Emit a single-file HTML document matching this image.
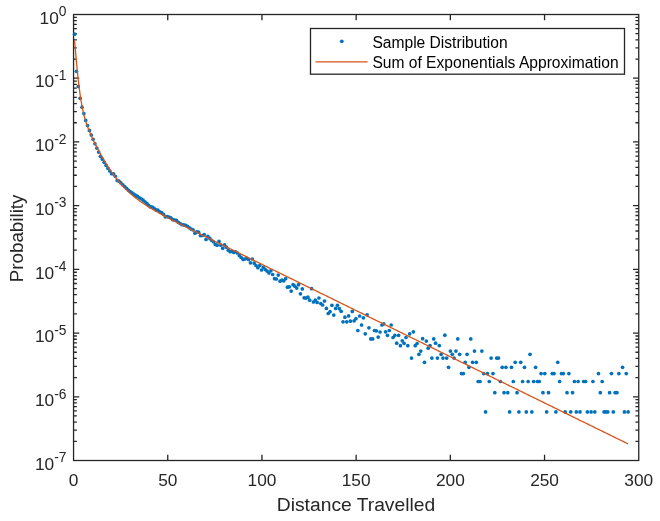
<!DOCTYPE html>
<html><head><meta charset="utf-8"><title>Distance Travelled</title>
<style>html,body{margin:0;padding:0;background:#fff}svg{display:block}</style>
</head><body>
<svg width="660" height="521" viewBox="0 0 660 521">
<rect width="660" height="521" fill="#fff"/>
<g stroke="#262626" stroke-width="1.3" fill="none" shape-rendering="auto">
<rect x="73.55" y="14.5" width="565.2" height="446.0"/>
<path d="M167.75,460.5v-5.7M167.75,14.5v5.7"/>
<path d="M261.95,460.5v-5.7M261.95,14.5v5.7"/>
<path d="M356.15,460.5v-5.7M356.15,14.5v5.7"/>
<path d="M450.35,460.5v-5.7M450.35,14.5v5.7"/>
<path d="M544.55,460.5v-5.7M544.55,14.5v5.7"/>
<path d="M73.55,59.03h3.3M638.75,59.03h-3.3"/>
<path d="M73.55,47.81h3.3M638.75,47.81h-3.3"/>
<path d="M73.55,39.85h3.3M638.75,39.85h-3.3"/>
<path d="M73.55,33.68h3.3M638.75,33.68h-3.3"/>
<path d="M73.55,28.63h3.3M638.75,28.63h-3.3"/>
<path d="M73.55,24.37h3.3M638.75,24.37h-3.3"/>
<path d="M73.55,20.67h3.3M638.75,20.67h-3.3"/>
<path d="M73.55,17.42h3.3M638.75,17.42h-3.3"/>
<path d="M73.55,78.21h5.7M638.75,78.21h-5.7"/>
<path d="M73.55,122.75h3.3M638.75,122.75h-3.3"/>
<path d="M73.55,111.53h3.3M638.75,111.53h-3.3"/>
<path d="M73.55,103.57h3.3M638.75,103.57h-3.3"/>
<path d="M73.55,97.39h3.3M638.75,97.39h-3.3"/>
<path d="M73.55,92.35h3.3M638.75,92.35h-3.3"/>
<path d="M73.55,88.08h3.3M638.75,88.08h-3.3"/>
<path d="M73.55,84.39h3.3M638.75,84.39h-3.3"/>
<path d="M73.55,81.13h3.3M638.75,81.13h-3.3"/>
<path d="M73.55,141.93h5.7M638.75,141.93h-5.7"/>
<path d="M73.55,186.46h3.3M638.75,186.46h-3.3"/>
<path d="M73.55,175.24h3.3M638.75,175.24h-3.3"/>
<path d="M73.55,167.28h3.3M638.75,167.28h-3.3"/>
<path d="M73.55,161.11h3.3M638.75,161.11h-3.3"/>
<path d="M73.55,156.06h3.3M638.75,156.06h-3.3"/>
<path d="M73.55,151.80h3.3M638.75,151.80h-3.3"/>
<path d="M73.55,148.10h3.3M638.75,148.10h-3.3"/>
<path d="M73.55,144.84h3.3M638.75,144.84h-3.3"/>
<path d="M73.55,205.64h5.7M638.75,205.64h-5.7"/>
<path d="M73.55,250.18h3.3M638.75,250.18h-3.3"/>
<path d="M73.55,238.96h3.3M638.75,238.96h-3.3"/>
<path d="M73.55,231.00h3.3M638.75,231.00h-3.3"/>
<path d="M73.55,224.82h3.3M638.75,224.82h-3.3"/>
<path d="M73.55,219.78h3.3M638.75,219.78h-3.3"/>
<path d="M73.55,215.51h3.3M638.75,215.51h-3.3"/>
<path d="M73.55,211.82h3.3M638.75,211.82h-3.3"/>
<path d="M73.55,208.56h3.3M638.75,208.56h-3.3"/>
<path d="M73.55,269.36h5.7M638.75,269.36h-5.7"/>
<path d="M73.55,313.89h3.3M638.75,313.89h-3.3"/>
<path d="M73.55,302.67h3.3M638.75,302.67h-3.3"/>
<path d="M73.55,294.71h3.3M638.75,294.71h-3.3"/>
<path d="M73.55,288.54h3.3M638.75,288.54h-3.3"/>
<path d="M73.55,283.49h3.3M638.75,283.49h-3.3"/>
<path d="M73.55,279.23h3.3M638.75,279.23h-3.3"/>
<path d="M73.55,275.53h3.3M638.75,275.53h-3.3"/>
<path d="M73.55,272.27h3.3M638.75,272.27h-3.3"/>
<path d="M73.55,333.07h5.7M638.75,333.07h-5.7"/>
<path d="M73.55,377.61h3.3M638.75,377.61h-3.3"/>
<path d="M73.55,366.39h3.3M638.75,366.39h-3.3"/>
<path d="M73.55,358.43h3.3M638.75,358.43h-3.3"/>
<path d="M73.55,352.25h3.3M638.75,352.25h-3.3"/>
<path d="M73.55,347.21h3.3M638.75,347.21h-3.3"/>
<path d="M73.55,342.94h3.3M638.75,342.94h-3.3"/>
<path d="M73.55,339.25h3.3M638.75,339.25h-3.3"/>
<path d="M73.55,335.99h3.3M638.75,335.99h-3.3"/>
<path d="M73.55,396.79h5.7M638.75,396.79h-5.7"/>
<path d="M73.55,441.32h3.3M638.75,441.32h-3.3"/>
<path d="M73.55,430.10h3.3M638.75,430.10h-3.3"/>
<path d="M73.55,422.14h3.3M638.75,422.14h-3.3"/>
<path d="M73.55,415.97h3.3M638.75,415.97h-3.3"/>
<path d="M73.55,410.92h3.3M638.75,410.92h-3.3"/>
<path d="M73.55,406.66h3.3M638.75,406.66h-3.3"/>
<path d="M73.55,402.96h3.3M638.75,402.96h-3.3"/>
<path d="M73.55,399.70h3.3M638.75,399.70h-3.3"/>
</g>
<g fill="#0072BD">
<circle cx="74.60" cy="34.20" r="1.85"/>
<circle cx="76.45" cy="71.30" r="1.85"/>
<circle cx="78.30" cy="86.40" r="1.85"/>
<circle cx="80.15" cy="98.30" r="1.85"/>
<circle cx="82.00" cy="107.20" r="1.85"/>
<circle cx="83.86" cy="113.60" r="1.85"/>
<circle cx="85.71" cy="120.40" r="1.85"/>
<circle cx="87.56" cy="125.49" r="1.85"/>
<circle cx="89.41" cy="130.38" r="1.85"/>
<circle cx="91.26" cy="135.05" r="1.85"/>
<circle cx="93.11" cy="139.25" r="1.85"/>
<circle cx="94.96" cy="143.77" r="1.85"/>
<circle cx="96.81" cy="148.03" r="1.85"/>
<circle cx="98.67" cy="152.07" r="1.85"/>
<circle cx="100.52" cy="156.28" r="1.85"/>
<circle cx="102.37" cy="159.17" r="1.85"/>
<circle cx="104.22" cy="162.30" r="1.85"/>
<circle cx="106.07" cy="165.32" r="1.85"/>
<circle cx="107.92" cy="168.22" r="1.85"/>
<circle cx="109.77" cy="171.00" r="1.85"/>
<circle cx="111.62" cy="173.67" r="1.85"/>
<circle cx="113.48" cy="173.86" r="1.85"/>
<circle cx="115.33" cy="176.34" r="1.85"/>
<circle cx="117.18" cy="180.40" r="1.85"/>
<circle cx="119.03" cy="181.16" r="1.85"/>
<circle cx="120.88" cy="182.91" r="1.85"/>
<circle cx="122.73" cy="184.80" r="1.85"/>
<circle cx="124.58" cy="186.60" r="1.85"/>
<circle cx="126.43" cy="188.36" r="1.85"/>
<circle cx="128.28" cy="190.03" r="1.85"/>
<circle cx="130.14" cy="191.62" r="1.85"/>
<circle cx="131.99" cy="192.94" r="1.85"/>
<circle cx="133.84" cy="194.18" r="1.85"/>
<circle cx="135.69" cy="195.37" r="1.85"/>
<circle cx="137.54" cy="196.29" r="1.85"/>
<circle cx="139.39" cy="197.86" r="1.85"/>
<circle cx="141.24" cy="198.77" r="1.85"/>
<circle cx="143.09" cy="200.15" r="1.85"/>
<circle cx="144.95" cy="201.78" r="1.85"/>
<circle cx="146.80" cy="203.28" r="1.85"/>
<circle cx="148.65" cy="205.45" r="1.85"/>
<circle cx="150.50" cy="206.88" r="1.85"/>
<circle cx="152.35" cy="207.00" r="1.85"/>
<circle cx="154.20" cy="208.38" r="1.85"/>
<circle cx="156.05" cy="209.95" r="1.85"/>
<circle cx="157.90" cy="210.10" r="1.85"/>
<circle cx="159.76" cy="211.73" r="1.85"/>
<circle cx="161.61" cy="212.55" r="1.85"/>
<circle cx="163.46" cy="214.35" r="1.85"/>
<circle cx="165.31" cy="216.85" r="1.85"/>
<circle cx="167.16" cy="216.53" r="1.85"/>
<circle cx="169.01" cy="217.20" r="1.85"/>
<circle cx="170.86" cy="217.87" r="1.85"/>
<circle cx="172.71" cy="219.63" r="1.85"/>
<circle cx="174.56" cy="219.98" r="1.85"/>
<circle cx="176.42" cy="220.43" r="1.85"/>
<circle cx="178.27" cy="222.37" r="1.85"/>
<circle cx="180.12" cy="223.51" r="1.85"/>
<circle cx="181.97" cy="224.75" r="1.85"/>
<circle cx="183.82" cy="224.78" r="1.85"/>
<circle cx="185.67" cy="225.31" r="1.85"/>
<circle cx="187.52" cy="226.34" r="1.85"/>
<circle cx="189.37" cy="227.86" r="1.85"/>
<circle cx="191.23" cy="229.08" r="1.85"/>
<circle cx="193.08" cy="229.80" r="1.85"/>
<circle cx="194.93" cy="233.22" r="1.85"/>
<circle cx="196.78" cy="231.84" r="1.85"/>
<circle cx="198.63" cy="232.16" r="1.85"/>
<circle cx="200.48" cy="235.57" r="1.85"/>
<circle cx="202.33" cy="235.49" r="1.85"/>
<circle cx="204.18" cy="234.50" r="1.85"/>
<circle cx="206.04" cy="239.41" r="1.85"/>
<circle cx="207.89" cy="236.42" r="1.85"/>
<circle cx="209.74" cy="238.34" r="1.85"/>
<circle cx="211.59" cy="240.25" r="1.85"/>
<circle cx="213.44" cy="241.76" r="1.85"/>
<circle cx="215.29" cy="244.47" r="1.85"/>
<circle cx="217.14" cy="245.18" r="1.85"/>
<circle cx="218.99" cy="241.39" r="1.85"/>
<circle cx="220.84" cy="245.20" r="1.85"/>
<circle cx="222.70" cy="248.31" r="1.85"/>
<circle cx="224.55" cy="244.92" r="1.85"/>
<circle cx="226.40" cy="247.13" r="1.85"/>
<circle cx="228.25" cy="250.13" r="1.85"/>
<circle cx="230.10" cy="251.74" r="1.85"/>
<circle cx="231.95" cy="251.35" r="1.85"/>
<circle cx="233.80" cy="252.46" r="1.85"/>
<circle cx="235.65" cy="251.77" r="1.85"/>
<circle cx="237.51" cy="253.00" r="1.85"/>
<circle cx="239.36" cy="255.60" r="1.85"/>
<circle cx="241.21" cy="257.50" r="1.85"/>
<circle cx="243.06" cy="259.40" r="1.85"/>
<circle cx="244.91" cy="259.00" r="1.85"/>
<circle cx="246.76" cy="258.30" r="1.85"/>
<circle cx="248.61" cy="259.40" r="1.85"/>
<circle cx="250.46" cy="262.80" r="1.85"/>
<circle cx="252.32" cy="259.00" r="1.85"/>
<circle cx="254.17" cy="263.20" r="1.85"/>
<circle cx="256.02" cy="265.50" r="1.85"/>
<circle cx="257.87" cy="267.70" r="1.85"/>
<circle cx="259.72" cy="265.50" r="1.85"/>
<circle cx="261.57" cy="270.00" r="1.85"/>
<circle cx="263.42" cy="267.30" r="1.85"/>
<circle cx="265.27" cy="269.60" r="1.85"/>
<circle cx="267.12" cy="271.10" r="1.85"/>
<circle cx="268.98" cy="273.00" r="1.85"/>
<circle cx="270.83" cy="270.80" r="1.85"/>
<circle cx="272.68" cy="274.50" r="1.85"/>
<circle cx="274.53" cy="278.70" r="1.85"/>
<circle cx="276.38" cy="279.00" r="1.85"/>
<circle cx="278.23" cy="275.10" r="1.85"/>
<circle cx="280.08" cy="281.20" r="1.85"/>
<circle cx="281.93" cy="280.20" r="1.85"/>
<circle cx="283.79" cy="280.80" r="1.85"/>
<circle cx="285.64" cy="278.70" r="1.85"/>
<circle cx="287.49" cy="287.20" r="1.85"/>
<circle cx="289.34" cy="286.80" r="1.85"/>
<circle cx="291.19" cy="291.10" r="1.85"/>
<circle cx="293.04" cy="284.70" r="1.85"/>
<circle cx="294.89" cy="286.20" r="1.85"/>
<circle cx="296.74" cy="288.10" r="1.85"/>
<circle cx="298.60" cy="284.70" r="1.85"/>
<circle cx="300.45" cy="293.80" r="1.85"/>
<circle cx="302.30" cy="288.90" r="1.85"/>
<circle cx="304.15" cy="297.80" r="1.85"/>
<circle cx="306.00" cy="298.10" r="1.85"/>
<circle cx="307.85" cy="297.20" r="1.85"/>
<circle cx="309.70" cy="300.20" r="1.85"/>
<circle cx="311.55" cy="288.70" r="1.85"/>
<circle cx="313.40" cy="302.00" r="1.85"/>
<circle cx="315.26" cy="300.20" r="1.85"/>
<circle cx="317.11" cy="302.40" r="1.85"/>
<circle cx="318.96" cy="298.00" r="1.85"/>
<circle cx="320.81" cy="303.60" r="1.85"/>
<circle cx="322.66" cy="305.00" r="1.85"/>
<circle cx="324.51" cy="301.00" r="1.85"/>
<circle cx="326.36" cy="308.40" r="1.85"/>
<circle cx="328.21" cy="313.50" r="1.85"/>
<circle cx="330.07" cy="311.70" r="1.85"/>
<circle cx="331.92" cy="305.30" r="1.85"/>
<circle cx="333.77" cy="315.10" r="1.85"/>
<circle cx="335.62" cy="308.40" r="1.85"/>
<circle cx="337.47" cy="305.30" r="1.85"/>
<circle cx="339.32" cy="308.70" r="1.85"/>
<circle cx="341.17" cy="311.30" r="1.85"/>
<circle cx="343.02" cy="321.80" r="1.85"/>
<circle cx="344.88" cy="317.20" r="1.85"/>
<circle cx="346.73" cy="321.80" r="1.85"/>
<circle cx="348.58" cy="315.90" r="1.85"/>
<circle cx="350.43" cy="321.20" r="1.85"/>
<circle cx="352.28" cy="311.40" r="1.85"/>
<circle cx="354.13" cy="320.80" r="1.85"/>
<circle cx="355.98" cy="318.70" r="1.85"/>
<circle cx="357.83" cy="330.50" r="1.85"/>
<circle cx="359.68" cy="316.00" r="1.85"/>
<circle cx="361.54" cy="325.00" r="1.85"/>
<circle cx="363.39" cy="317.80" r="1.85"/>
<circle cx="365.24" cy="333.80" r="1.85"/>
<circle cx="367.09" cy="314.80" r="1.85"/>
<circle cx="368.94" cy="327.80" r="1.85"/>
<circle cx="370.79" cy="338.90" r="1.85"/>
<circle cx="372.64" cy="338.90" r="1.85"/>
<circle cx="374.49" cy="330.50" r="1.85"/>
<circle cx="376.35" cy="330.80" r="1.85"/>
<circle cx="378.20" cy="337.10" r="1.85"/>
<circle cx="380.05" cy="332.00" r="1.85"/>
<circle cx="381.90" cy="325.00" r="1.85"/>
<circle cx="383.75" cy="323.80" r="1.85"/>
<circle cx="385.60" cy="331.80" r="1.85"/>
<circle cx="387.45" cy="335.30" r="1.85"/>
<circle cx="389.30" cy="330.50" r="1.85"/>
<circle cx="391.16" cy="325.00" r="1.85"/>
<circle cx="393.01" cy="337.50" r="1.85"/>
<circle cx="394.86" cy="335.30" r="1.85"/>
<circle cx="396.71" cy="343.20" r="1.85"/>
<circle cx="398.56" cy="335.30" r="1.85"/>
<circle cx="400.41" cy="345.70" r="1.85"/>
<circle cx="402.26" cy="340.80" r="1.85"/>
<circle cx="404.11" cy="343.30" r="1.85"/>
<circle cx="405.96" cy="337.50" r="1.85"/>
<circle cx="407.82" cy="345.70" r="1.85"/>
<circle cx="409.67" cy="333.80" r="1.85"/>
<circle cx="411.52" cy="358.06" r="1.85"/>
<circle cx="413.37" cy="331.80" r="1.85"/>
<circle cx="415.22" cy="345.70" r="1.85"/>
<circle cx="417.07" cy="343.50" r="1.85"/>
<circle cx="418.92" cy="354.36" r="1.85"/>
<circle cx="420.77" cy="351.11" r="1.85"/>
<circle cx="422.63" cy="338.70" r="1.85"/>
<circle cx="424.48" cy="362.32" r="1.85"/>
<circle cx="426.33" cy="341.10" r="1.85"/>
<circle cx="428.18" cy="348.19" r="1.85"/>
<circle cx="430.03" cy="345.55" r="1.85"/>
<circle cx="431.88" cy="358.06" r="1.85"/>
<circle cx="433.73" cy="338.88" r="1.85"/>
<circle cx="435.58" cy="343.15" r="1.85"/>
<circle cx="437.44" cy="358.06" r="1.85"/>
<circle cx="439.29" cy="345.55" r="1.85"/>
<circle cx="441.14" cy="354.36" r="1.85"/>
<circle cx="442.99" cy="358.06" r="1.85"/>
<circle cx="444.84" cy="335.19" r="1.85"/>
<circle cx="446.69" cy="358.06" r="1.85"/>
<circle cx="448.54" cy="367.37" r="1.85"/>
<circle cx="450.39" cy="351.11" r="1.85"/>
<circle cx="452.24" cy="354.36" r="1.85"/>
<circle cx="454.10" cy="358.06" r="1.85"/>
<circle cx="455.95" cy="351.11" r="1.85"/>
<circle cx="457.80" cy="338.88" r="1.85"/>
<circle cx="459.65" cy="354.36" r="1.85"/>
<circle cx="461.50" cy="373.54" r="1.85"/>
<circle cx="463.35" cy="373.54" r="1.85"/>
<circle cx="465.20" cy="362.32" r="1.85"/>
<circle cx="467.05" cy="354.36" r="1.85"/>
<circle cx="468.91" cy="367.37" r="1.85"/>
<circle cx="470.76" cy="338.88" r="1.85"/>
<circle cx="472.61" cy="362.32" r="1.85"/>
<circle cx="474.46" cy="351.11" r="1.85"/>
<circle cx="476.31" cy="362.32" r="1.85"/>
<circle cx="478.16" cy="381.50" r="1.85"/>
<circle cx="480.01" cy="381.50" r="1.85"/>
<circle cx="481.86" cy="351.11" r="1.85"/>
<circle cx="483.72" cy="373.54" r="1.85"/>
<circle cx="485.57" cy="411.90" r="1.85"/>
<circle cx="487.42" cy="373.54" r="1.85"/>
<circle cx="489.27" cy="381.50" r="1.85"/>
<circle cx="491.12" cy="358.06" r="1.85"/>
<circle cx="492.97" cy="373.54" r="1.85"/>
<circle cx="494.82" cy="392.72" r="1.85"/>
<circle cx="496.67" cy="358.06" r="1.85"/>
<circle cx="498.52" cy="358.06" r="1.85"/>
<circle cx="500.38" cy="381.50" r="1.85"/>
<circle cx="502.23" cy="367.37" r="1.85"/>
<circle cx="504.08" cy="392.72" r="1.85"/>
<circle cx="505.93" cy="367.37" r="1.85"/>
<circle cx="507.78" cy="392.72" r="1.85"/>
<circle cx="509.63" cy="411.90" r="1.85"/>
<circle cx="511.48" cy="367.37" r="1.85"/>
<circle cx="513.33" cy="381.50" r="1.85"/>
<circle cx="515.19" cy="362.32" r="1.85"/>
<circle cx="517.04" cy="392.72" r="1.85"/>
<circle cx="518.89" cy="411.90" r="1.85"/>
<circle cx="520.74" cy="362.32" r="1.85"/>
<circle cx="522.59" cy="381.50" r="1.85"/>
<circle cx="524.44" cy="367.37" r="1.85"/>
<circle cx="526.29" cy="411.90" r="1.85"/>
<circle cx="528.14" cy="381.50" r="1.85"/>
<circle cx="530.00" cy="354.36" r="1.85"/>
<circle cx="531.85" cy="411.90" r="1.85"/>
<circle cx="533.70" cy="381.50" r="1.85"/>
<circle cx="535.55" cy="367.37" r="1.85"/>
<circle cx="537.40" cy="381.50" r="1.85"/>
<circle cx="539.25" cy="381.50" r="1.85"/>
<circle cx="541.10" cy="373.54" r="1.85"/>
<circle cx="542.95" cy="392.72" r="1.85"/>
<circle cx="544.80" cy="373.54" r="1.85"/>
<circle cx="546.66" cy="411.90" r="1.85"/>
<circle cx="548.51" cy="392.72" r="1.85"/>
<circle cx="552.21" cy="373.54" r="1.85"/>
<circle cx="554.06" cy="373.54" r="1.85"/>
<circle cx="555.91" cy="411.90" r="1.85"/>
<circle cx="557.76" cy="362.32" r="1.85"/>
<circle cx="559.61" cy="381.50" r="1.85"/>
<circle cx="561.47" cy="373.54" r="1.85"/>
<circle cx="563.32" cy="373.54" r="1.85"/>
<circle cx="565.17" cy="411.90" r="1.85"/>
<circle cx="567.02" cy="392.72" r="1.85"/>
<circle cx="568.87" cy="373.54" r="1.85"/>
<circle cx="570.72" cy="411.90" r="1.85"/>
<circle cx="572.57" cy="392.72" r="1.85"/>
<circle cx="574.42" cy="381.50" r="1.85"/>
<circle cx="576.28" cy="411.90" r="1.85"/>
<circle cx="578.13" cy="381.50" r="1.85"/>
<circle cx="579.98" cy="411.90" r="1.85"/>
<circle cx="583.68" cy="381.50" r="1.85"/>
<circle cx="585.53" cy="381.50" r="1.85"/>
<circle cx="587.38" cy="411.90" r="1.85"/>
<circle cx="591.08" cy="411.90" r="1.85"/>
<circle cx="592.94" cy="381.50" r="1.85"/>
<circle cx="594.79" cy="411.90" r="1.85"/>
<circle cx="598.49" cy="373.54" r="1.85"/>
<circle cx="600.34" cy="392.72" r="1.85"/>
<circle cx="602.19" cy="381.50" r="1.85"/>
<circle cx="604.04" cy="411.90" r="1.85"/>
<circle cx="605.89" cy="411.90" r="1.85"/>
<circle cx="607.75" cy="411.90" r="1.85"/>
<circle cx="609.60" cy="392.72" r="1.85"/>
<circle cx="611.45" cy="373.54" r="1.85"/>
<circle cx="613.30" cy="411.90" r="1.85"/>
<circle cx="615.15" cy="392.72" r="1.85"/>
<circle cx="617.00" cy="392.72" r="1.85"/>
<circle cx="618.85" cy="373.54" r="1.85"/>
<circle cx="622.56" cy="367.37" r="1.85"/>
<circle cx="624.41" cy="411.90" r="1.85"/>
<circle cx="626.26" cy="373.54" r="1.85"/>
<circle cx="628.11" cy="411.90" r="1.85"/>
</g>
<path d="M74.60,41.04 L76.45,61.99 L78.30,80.22 L80.15,95.01 L82.00,106.30 L83.86,114.77 L85.71,121.32 L87.56,126.69 L89.41,131.38 L91.26,135.65 L93.11,139.65 L94.96,143.47 L96.81,147.13 L98.67,150.67 L100.52,154.08 L102.37,157.37 L104.22,160.54 L106.07,163.60 L107.92,166.54 L109.77,169.36 L111.62,172.07 L113.48,174.66 L115.33,177.14 L117.18,179.50 L119.03,181.76 L120.88,183.91 L122.73,185.95 L124.58,187.90 L126.43,189.76 L128.28,191.53 L130.14,193.22 L131.99,194.84 L133.84,196.38 L135.69,197.87 L137.54,199.29 L139.39,200.66 L141.24,201.97 L143.09,203.25 L144.95,204.48 L146.80,205.68 L148.65,206.85 L150.50,207.98 L152.35,209.10 L154.20,210.18 L156.05,211.25 L157.90,212.30 L159.76,213.33 L161.61,214.35 L163.46,215.35 L165.31,216.35 L167.16,217.33 L169.01,218.30 L170.86,219.27 L172.71,220.23 L174.56,221.18 L176.42,222.13 L178.27,223.07 L180.12,224.01 L181.97,224.95 L183.82,225.88 L185.67,226.81 L187.52,227.74 L189.37,228.66 L191.23,229.58 L193.08,230.50 L194.93,231.42 L196.78,232.34 L198.63,233.26 L200.48,234.17 L202.33,235.09 L204.18,236.00 L206.04,236.91 L207.89,237.82 L209.74,238.74 L211.59,239.65 L213.44,240.56 L215.29,241.47 L217.14,242.38 L218.99,243.29 L220.84,244.20 L222.70,245.11 L224.55,246.02 L226.40,246.93 L228.25,247.83 L230.10,248.74 L231.95,249.65 L233.80,250.56 L235.65,251.47 L237.51,252.38 L239.36,253.29 L241.21,254.19 L243.06,255.10 L244.91,256.01 L246.76,256.92 L248.61,257.83 L250.46,258.73 L252.32,259.64 L254.17,260.55 L256.02,261.46 L257.87,262.37 L259.72,263.27 L261.57,264.18 L263.42,265.09 L265.27,266.00 L267.12,266.90 L268.98,267.81 L270.83,268.72 L272.68,269.63 L274.53,270.54 L276.38,271.44 L278.23,272.35 L280.08,273.26 L281.93,274.17 L283.79,275.07 L285.64,275.98 L287.49,276.89 L289.34,277.80 L291.19,278.70 L293.04,279.61 L294.89,280.52 L296.74,281.43 L298.60,282.34 L300.45,283.24 L302.30,284.15 L304.15,285.06 L306.00,285.97 L307.85,286.87 L309.70,287.78 L311.55,288.69 L313.40,289.60 L315.26,290.51 L317.11,291.41 L318.96,292.32 L320.81,293.23 L322.66,294.14 L324.51,295.04 L326.36,295.95 L328.21,296.86 L330.07,297.77 L331.92,298.67 L333.77,299.58 L335.62,300.49 L337.47,301.40 L339.32,302.31 L341.17,303.21 L343.02,304.12 L344.88,305.03 L346.73,305.94 L348.58,306.84 L350.43,307.75 L352.28,308.66 L354.13,309.57 L355.98,310.47 L357.83,311.38 L359.68,312.29 L361.54,313.20 L363.39,314.11 L365.24,315.01 L367.09,315.92 L368.94,316.83 L370.79,317.74 L372.64,318.64 L374.49,319.55 L376.35,320.46 L378.20,321.37 L380.05,322.28 L381.90,323.18 L383.75,324.09 L385.60,325.00 L387.45,325.91 L389.30,326.81 L391.16,327.72 L393.01,328.63 L394.86,329.54 L396.71,330.44 L398.56,331.35 L400.41,332.26 L402.26,333.17 L404.11,334.08 L405.96,334.98 L407.82,335.89 L409.67,336.80 L411.52,337.71 L413.37,338.61 L415.22,339.52 L417.07,340.43 L418.92,341.34 L420.77,342.24 L422.63,343.15 L424.48,344.06 L426.33,344.97 L428.18,345.88 L430.03,346.78 L431.88,347.69 L433.73,348.60 L435.58,349.51 L437.44,350.41 L439.29,351.32 L441.14,352.23 L442.99,353.14 L444.84,354.04 L446.69,354.95 L448.54,355.86 L450.39,356.77 L452.24,357.68 L454.10,358.58 L455.95,359.49 L457.80,360.40 L459.65,361.31 L461.50,362.21 L463.35,363.12 L465.20,364.03 L467.05,364.94 L468.91,365.85 L470.76,366.75 L472.61,367.66 L474.46,368.57 L476.31,369.48 L478.16,370.38 L480.01,371.29 L481.86,372.20 L483.72,373.11 L485.57,374.01 L487.42,374.92 L489.27,375.83 L491.12,376.74 L492.97,377.65 L494.82,378.55 L496.67,379.46 L498.52,380.37 L500.38,381.28 L502.23,382.18 L504.08,383.09 L505.93,384.00 L507.78,384.91 L509.63,385.81 L511.48,386.72 L513.33,387.63 L515.19,388.54 L517.04,389.45 L518.89,390.35 L520.74,391.26 L522.59,392.17 L524.44,393.08 L526.29,393.98 L528.14,394.89 L530.00,395.80 L531.85,396.71 L533.70,397.62 L535.55,398.52 L537.40,399.43 L539.25,400.34 L541.10,401.25 L542.95,402.15 L544.80,403.06 L546.66,403.97 L548.51,404.88 L550.36,405.78 L552.21,406.69 L554.06,407.60 L555.91,408.51 L557.76,409.42 L559.61,410.32 L561.47,411.23 L563.32,412.14 L565.17,413.05 L567.02,413.95 L568.87,414.86 L570.72,415.77 L572.57,416.68 L574.42,417.58 L576.28,418.49 L578.13,419.40 L579.98,420.31 L581.83,421.22 L583.68,422.12 L585.53,423.03 L587.38,423.94 L589.23,424.85 L591.08,425.75 L592.94,426.66 L594.79,427.57 L596.64,428.48 L598.49,429.38 L600.34,430.29 L602.19,431.20 L604.04,432.11 L605.89,433.02 L607.75,433.92 L609.60,434.83 L611.45,435.74 L613.30,436.65 L615.15,437.55 L617.00,438.46 L618.85,439.37 L620.70,440.28 L622.56,441.19 L624.41,442.09 L626.26,443.00 L628.11,443.91" fill="none" stroke="#D95319" stroke-width="1.3" stroke-linejoin="round"/>
<g font-family="Liberation Sans, Arial, Helvetica, sans-serif" fill="#262626" font-size="17.3">
<text x="73.55" y="485.6" text-anchor="middle">0</text>
<text x="167.75" y="485.6" text-anchor="middle">50</text>
<text x="261.95" y="485.6" text-anchor="middle">100</text>
<text x="356.15" y="485.6" text-anchor="middle">150</text>
<text x="450.35" y="485.6" text-anchor="middle">200</text>
<text x="544.55" y="485.6" text-anchor="middle">250</text>
<text x="638.75" y="485.6" text-anchor="middle">300</text>
<text x="66.5" y="23.70" text-anchor="end">10<tspan font-size="13.8" dy="-7.4">0</tspan></text>
<text x="66.5" y="87.41" text-anchor="end">10<tspan font-size="13.8" dy="-7.4">-1</tspan></text>
<text x="66.5" y="151.13" text-anchor="end">10<tspan font-size="13.8" dy="-7.4">-2</tspan></text>
<text x="66.5" y="214.84" text-anchor="end">10<tspan font-size="13.8" dy="-7.4">-3</tspan></text>
<text x="66.5" y="278.56" text-anchor="end">10<tspan font-size="13.8" dy="-7.4">-4</tspan></text>
<text x="66.5" y="342.27" text-anchor="end">10<tspan font-size="13.8" dy="-7.4">-5</tspan></text>
<text x="66.5" y="405.99" text-anchor="end">10<tspan font-size="13.8" dy="-7.4">-6</tspan></text>
<text x="66.5" y="469.70" text-anchor="end">10<tspan font-size="13.8" dy="-7.4">-7</tspan></text>
</g>
<text font-family="Liberation Sans, Arial, Helvetica, sans-serif" fill="#262626" font-size="19.25" x="356" y="511.2" text-anchor="middle">Distance Travelled</text>
<text font-family="Liberation Sans, Arial, Helvetica, sans-serif" fill="#262626" font-size="18.75" transform="translate(23,238.4) rotate(-90)" text-anchor="middle">Probability</text>
<rect x="310.5" y="28.5" width="314" height="45.7" fill="#fff" stroke="#262626" stroke-width="1.3"/>
<circle cx="341.8" cy="41.3" r="1.85" fill="#0072BD"/>
<path d="M315.5,61.8H367.6" stroke="#D95319" stroke-width="1.3"/>
<g font-family="Liberation Sans, Arial, Helvetica, sans-serif" fill="#000" font-size="15.6">
<text x="372.4" y="47.6">Sample Distribution</text>
<text x="372.4" y="67.9">Sum of Exponentials Approximation</text>
</g>
</svg>
</body></html>
